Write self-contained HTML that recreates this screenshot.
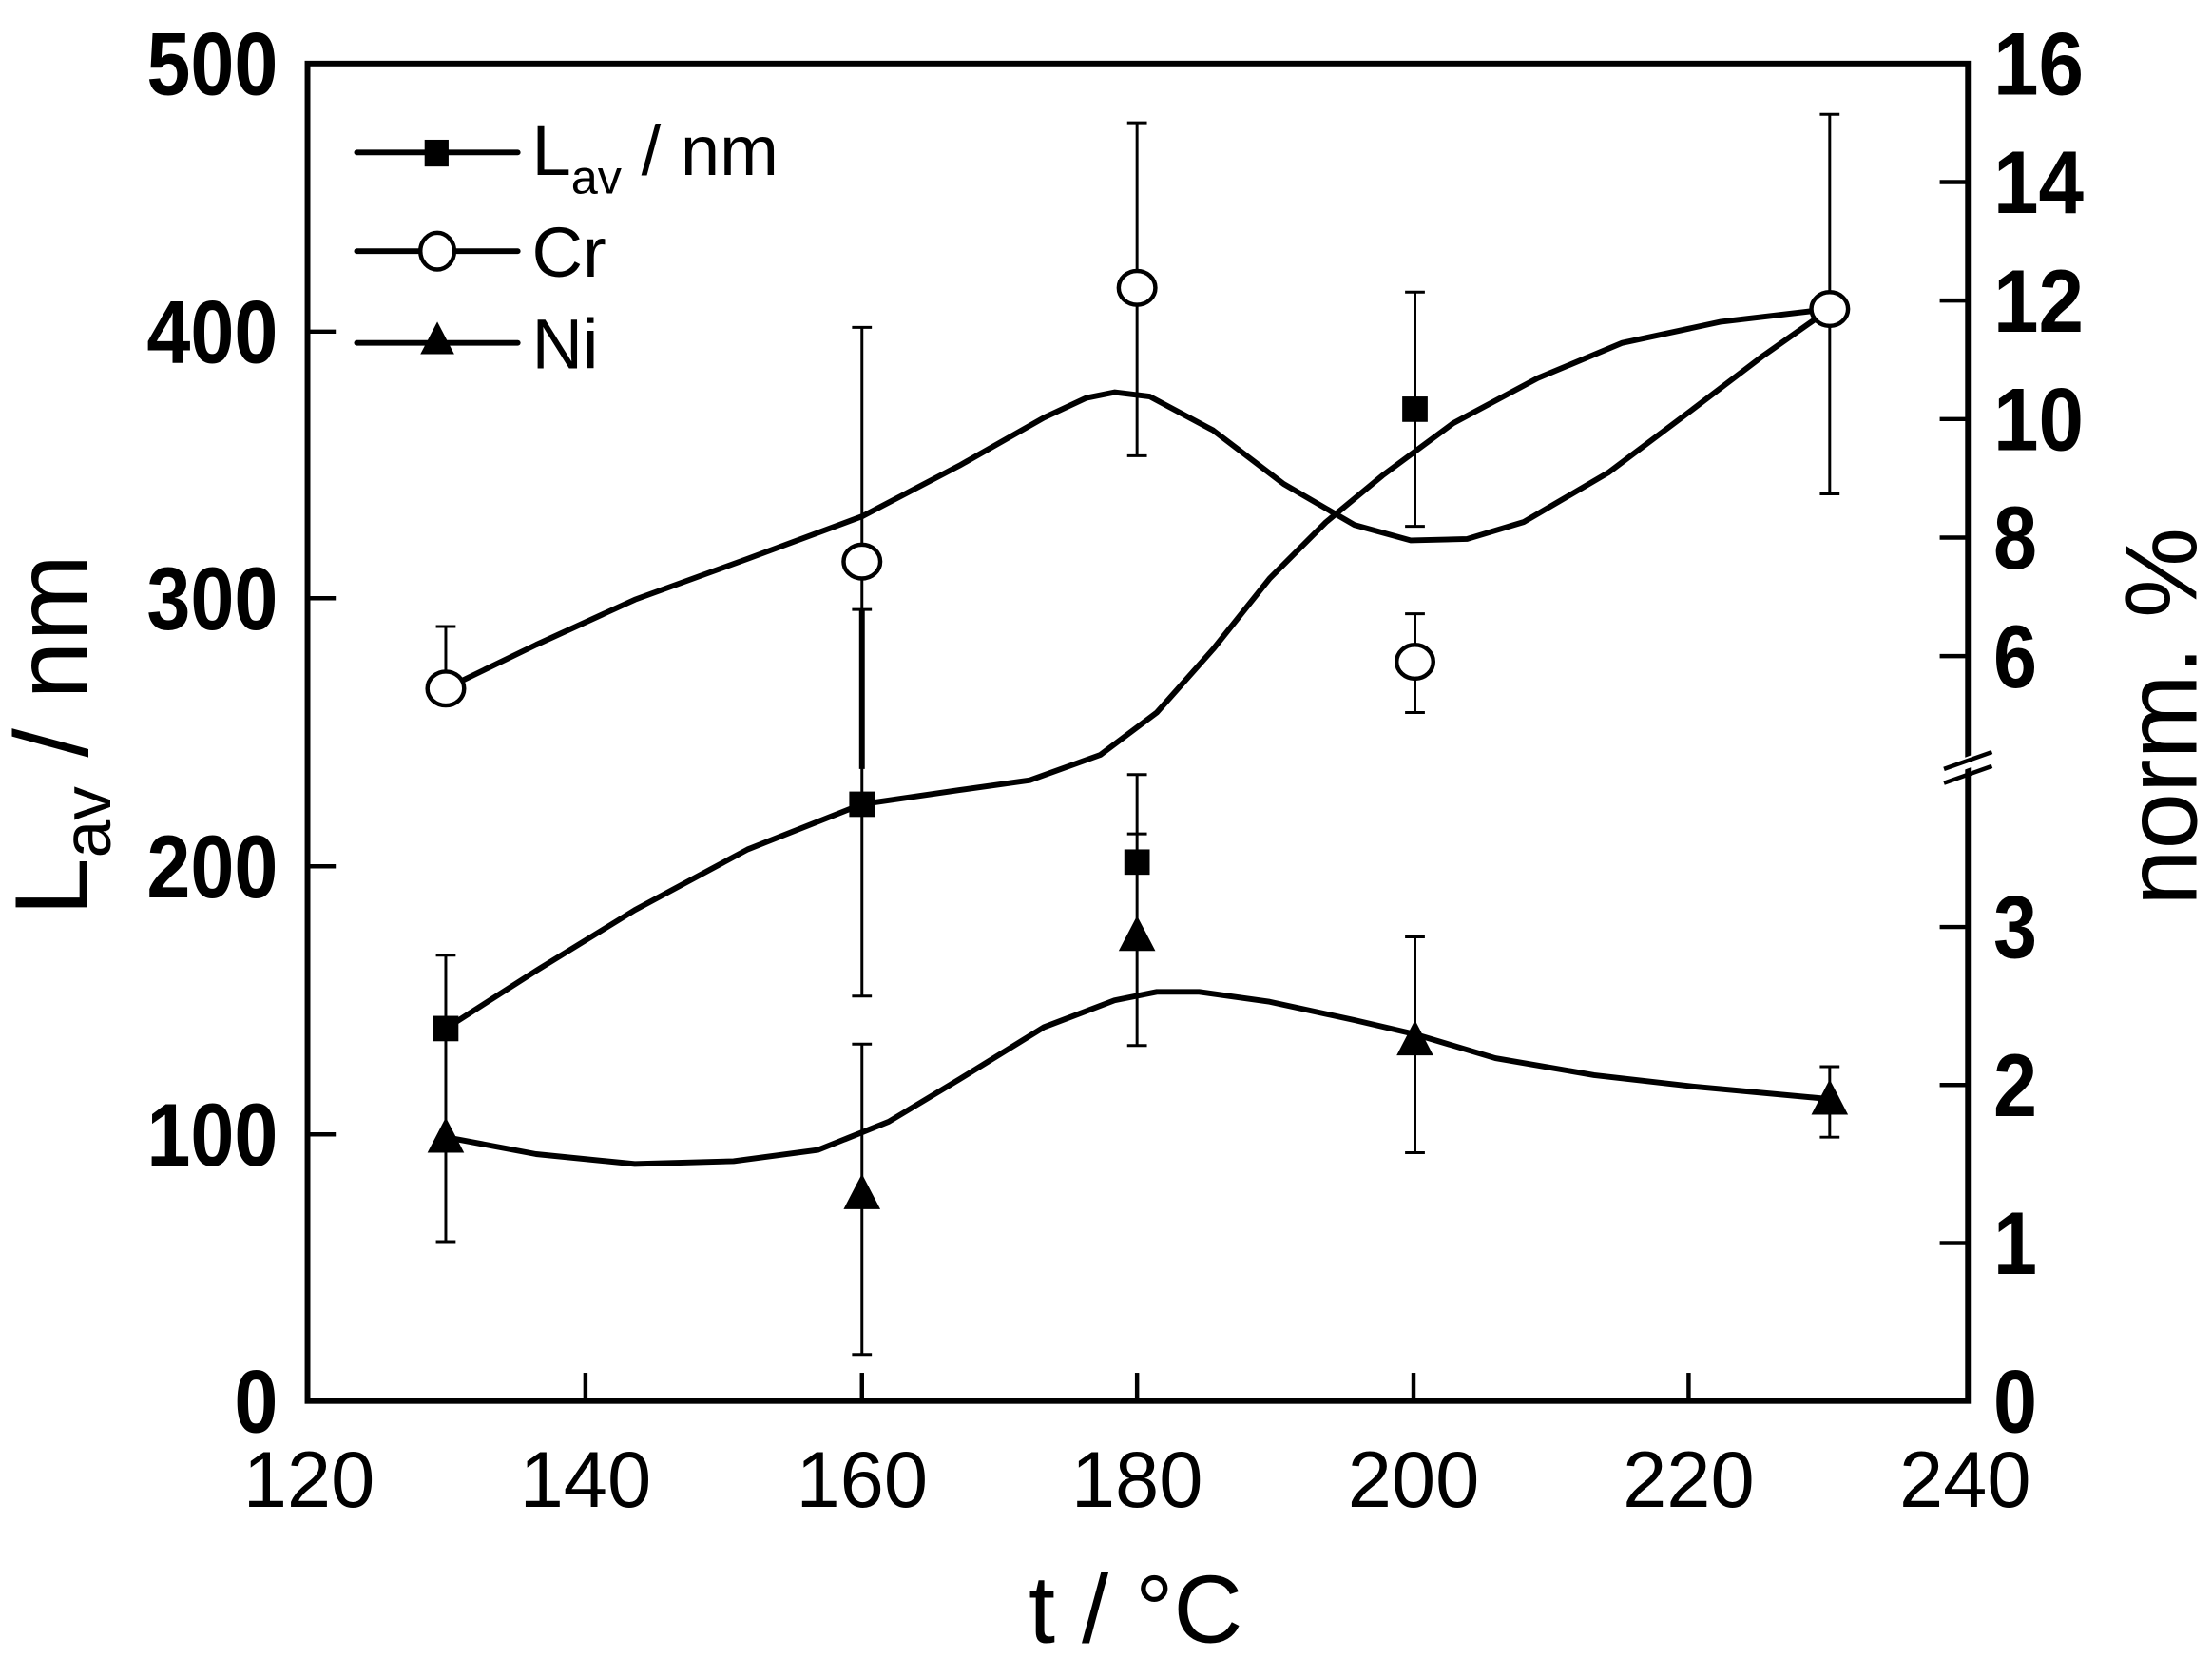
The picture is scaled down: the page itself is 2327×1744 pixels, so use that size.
<!DOCTYPE html>
<html><head><meta charset="utf-8"><style>
html,body{margin:0;padding:0;background:#fff;}
svg{display:block;}
text{font-family:"Liberation Sans",Arial,sans-serif;fill:#000;}
</style></head><body>
<svg width="2327" height="1744" viewBox="0 0 1568 1175.1" xmlns="http://www.w3.org/2000/svg">
<rect x="0" y="0" width="1568" height="1176" fill="#fff"/>
<rect x="218" y="45" width="1177" height="948" fill="none" stroke="#000" stroke-width="4"/>
<line x1="1380" y1="546" x2="1412" y2="534" stroke="#fff" stroke-width="8"/>
<line x1="1378" y1="545" x2="1412" y2="533" stroke="#000" stroke-width="3"/>
<line x1="1378" y1="555" x2="1412" y2="543" stroke="#000" stroke-width="3"/>
<g stroke="#000" stroke-width="3">
<line x1="218" y1="804" x2="238" y2="804"/>
<line x1="218" y1="614" x2="238" y2="614"/>
<line x1="218" y1="424" x2="238" y2="424"/>
<line x1="218" y1="235" x2="238" y2="235"/>
<line x1="415" y1="993" x2="415" y2="973"/>
<line x1="611" y1="993" x2="611" y2="973"/>
<line x1="806" y1="993" x2="806" y2="973"/>
<line x1="1002" y1="993" x2="1002" y2="973"/>
<line x1="1197" y1="993" x2="1197" y2="973"/>
<line x1="1395" y1="881" x2="1375" y2="881"/>
<line x1="1395" y1="769" x2="1375" y2="769"/>
<line x1="1395" y1="657" x2="1375" y2="657"/>
<line x1="1395" y1="465" x2="1375" y2="465"/>
<line x1="1395" y1="381" x2="1375" y2="381"/>
<line x1="1395" y1="297" x2="1375" y2="297"/>
<line x1="1395" y1="213" x2="1375" y2="213"/>
<line x1="1395" y1="129" x2="1375" y2="129"/>
</g>
<g font-size="63" font-weight="bold" lengthAdjust="spacingAndGlyphs">
<text x="166" y="1015" textLength="31" lengthAdjust="spacingAndGlyphs">0</text>
<text x="104" y="826" textLength="93" lengthAdjust="spacingAndGlyphs">100</text>
<text x="104" y="636" textLength="93" lengthAdjust="spacingAndGlyphs">200</text>
<text x="104" y="446" textLength="93" lengthAdjust="spacingAndGlyphs">300</text>
<text x="104" y="257" textLength="93" lengthAdjust="spacingAndGlyphs">400</text>
<text x="104" y="67" textLength="93" lengthAdjust="spacingAndGlyphs">500</text>
</g>
<g font-size="63" font-weight="bold">
<text x="1413" y="1015" textLength="31" lengthAdjust="spacingAndGlyphs">0</text>
<text x="1413" y="903" textLength="31" lengthAdjust="spacingAndGlyphs">1</text>
<text x="1413" y="791" textLength="31" lengthAdjust="spacingAndGlyphs">2</text>
<text x="1413" y="679" textLength="31" lengthAdjust="spacingAndGlyphs">3</text>
<text x="1413" y="487" textLength="31" lengthAdjust="spacingAndGlyphs">6</text>
<text x="1413" y="403" textLength="31" lengthAdjust="spacingAndGlyphs">8</text>
<text x="1413" y="319" textLength="64" lengthAdjust="spacingAndGlyphs">10</text>
<text x="1413" y="235" textLength="64" lengthAdjust="spacingAndGlyphs">12</text>
<text x="1413" y="151" textLength="64" lengthAdjust="spacingAndGlyphs">14</text>
<text x="1413" y="67" textLength="64" lengthAdjust="spacingAndGlyphs">16</text>
</g>
<g font-size="56" text-anchor="middle">
<text x="219" y="1068">120</text>
<text x="415" y="1068">140</text>
<text x="611" y="1068">160</text>
<text x="806" y="1068">180</text>
<text x="1002" y="1068">200</text>
<text x="1197" y="1068">220</text>
<text x="1393" y="1068">240</text>
</g>
<text x="805" y="1164" font-size="68" text-anchor="middle">t / °C</text>
<text transform="translate(62,521) rotate(-90)" font-size="74" text-anchor="middle">L<tspan font-size="48" dy="16">av</tspan><tspan dy="-16"> / nm</tspan></text>
<text transform="translate(1557,508) rotate(-90)" font-size="72" text-anchor="middle">norm. %</text>
<g stroke="#000" stroke-width="2" fill="none">
<line x1="316" y1="444" x2="316" y2="488"/>
<line x1="309" y1="444" x2="323" y2="444"/>
<line x1="316" y1="677" x2="316" y2="880"/>
<line x1="309" y1="677" x2="323" y2="677"/><line x1="309" y1="880" x2="323" y2="880"/>
<line x1="611" y1="232" x2="611" y2="706"/>
<line x1="604" y1="232" x2="618" y2="232"/><line x1="604" y1="432" x2="618" y2="432"/><line x1="604" y1="706" x2="618" y2="706"/>
<line x1="611" y1="740" x2="611" y2="960"/>
<line x1="604" y1="740" x2="618" y2="740"/><line x1="604" y1="960" x2="618" y2="960"/>
<line x1="611" y1="432" x2="611" y2="545" stroke-width="4"/>
<line x1="806" y1="87" x2="806" y2="323"/>
<line x1="799" y1="87" x2="813" y2="87"/><line x1="799" y1="323" x2="813" y2="323"/>
<line x1="806" y1="549" x2="806" y2="741"/>
<line x1="799" y1="549" x2="813" y2="549"/><line x1="799" y1="591" x2="813" y2="591"/><line x1="799" y1="741" x2="813" y2="741"/>
<line x1="1003" y1="207" x2="1003" y2="373"/>
<line x1="996" y1="207" x2="1010" y2="207"/><line x1="996" y1="373" x2="1010" y2="373"/>
<line x1="1003" y1="435" x2="1003" y2="505"/>
<line x1="996" y1="435" x2="1010" y2="435"/><line x1="996" y1="505" x2="1010" y2="505"/>
<line x1="1003" y1="664" x2="1003" y2="817"/>
<line x1="996" y1="664" x2="1010" y2="664"/><line x1="996" y1="817" x2="1010" y2="817"/>
<line x1="1297" y1="81" x2="1297" y2="350"/>
<line x1="1290" y1="81" x2="1304" y2="81"/><line x1="1290" y1="350" x2="1304" y2="350"/>
<line x1="1297" y1="756" x2="1297" y2="806"/>
<line x1="1290" y1="756" x2="1304" y2="756"/><line x1="1290" y1="806" x2="1304" y2="806"/>
</g>
<g stroke="#000" stroke-width="4" fill="none" stroke-linejoin="round">
<polyline points="316,488 380,457 450,425 530,396 611,366 680,330 740,296 770,282 790,278 815,281 860,305 910,343 960,372 1000,383 1040,382 1080,370 1140,335 1200,290 1250,252 1297,219"/>
<polyline points="316,729 380,688 450,645 530,602 611,570 680,560 730,553 780,535 820,505 860,460 900,410 940,370 980,337 1030,300 1090,268 1150,243 1220,228 1297,219"/>
<polyline points="316,806 380,818 450,825 520,823 580,815 630,795 680,765 740,728 790,709 820,703 850,703 900,710 960,723 1003,733 1060,750 1130,762 1200,770 1297,779"/>
</g>
<g fill="#000">
<rect x="307" y="720" width="18" height="18"/>
<rect x="602" y="561" width="18" height="18"/>
<rect x="797" y="602" width="18" height="18"/>
<rect x="994" y="281" width="18" height="18"/>
<polygon points="316,792 303,817 329,817"/>
<polygon points="611,832 598,857 624,857"/>
<polygon points="806,649 793,674 819,674"/>
<polygon points="1003,723 990,748 1016,748"/>
<polygon points="1297,765 1284,790 1310,790"/>
</g>
<g fill="#fff" stroke="#000" stroke-width="3">
<ellipse cx="316" cy="488" rx="13" ry="12"/>
<ellipse cx="611" cy="398" rx="13" ry="12"/>
<ellipse cx="806" cy="204" rx="13" ry="12"/>
<ellipse cx="1003" cy="469" rx="13" ry="12"/>
<ellipse cx="1297" cy="219" rx="13" ry="12"/>
</g>
<g stroke="#000" stroke-width="4" stroke-linecap="round">
<line x1="253" y1="108" x2="367" y2="108"/>
<line x1="253" y1="178" x2="367" y2="178"/>
<line x1="253" y1="243" x2="367" y2="243"/>
</g>
<rect x="301" y="99" width="17" height="19" fill="#000"/>
<ellipse cx="310" cy="178" rx="12" ry="13" fill="#fff" stroke="#000" stroke-width="3"/>
<polygon points="310,228 298,251 322,251" fill="#000"/>
<g font-size="50">
<text x="377" y="124">L<tspan font-size="34" dy="13">av</tspan><tspan dy="-13"> / nm</tspan></text>
<text x="377" y="196">Cr</text>
<text x="377" y="261">Ni</text>
</g>
</svg>
</body></html>
